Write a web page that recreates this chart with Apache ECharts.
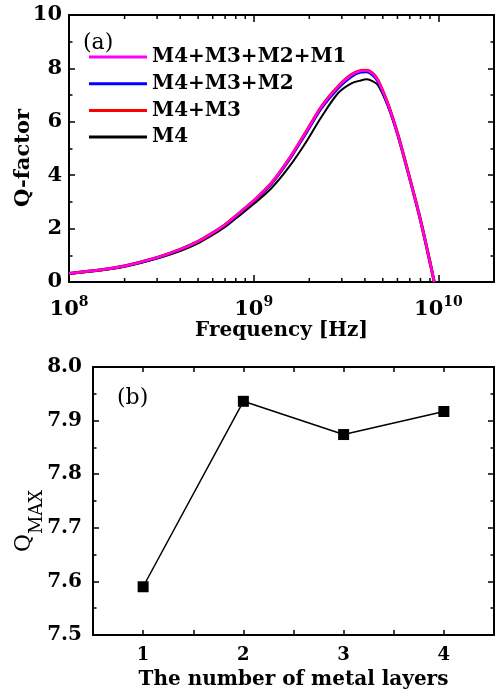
<!DOCTYPE html>
<html>
<head>
<meta charset="utf-8">
<script src="https://cdn.jsdelivr.net/npm/echarts@6/dist/echarts.min.js"></script>
<style>
html,body{margin:0;padding:0;background:#fff;}
#chart{width:497px;height:695px;}
</style>
</head>
<body>
<div id="chart"></div>
<script>
// ---- data (panel a) ----
const freqHz = [1e8, 1.5e8, 2e8, 3e8, 4e8, 5e8, 6e8, 7e8, 8e8, 1e9, 1.25e9, 1.55e9, 1.9e9, 2.33e9, 2.86e9, 3.38e9, 3.8e9, 4.1e9, 4.4e9, 4.7e9, 5.3e9, 6.0e9, 6.8e9, 8.0e9, 9.5e9];
const qM4M3M2M1 = [0.32, 0.46, 0.60, 0.92, 1.22, 1.52, 1.84, 2.15, 2.48, 3.05, 3.72, 4.60, 5.57, 6.57, 7.31, 7.75, 7.90, 7.917, 7.80, 7.55, 6.70, 5.57, 4.20, 2.32, 0];
const qM4M3M2   = [0.32, 0.46, 0.60, 0.91, 1.21, 1.51, 1.83, 2.14, 2.46, 3.03, 3.69, 4.56, 5.53, 6.52, 7.26, 7.70, 7.86, 7.875, 7.76, 7.52, 6.68, 5.56, 4.19, 2.31, 0];
const qM4M3     = [0.32, 0.46, 0.60, 0.92, 1.22, 1.52, 1.84, 2.15, 2.48, 3.05, 3.72, 4.60, 5.58, 6.58, 7.32, 7.77, 7.92, 7.935, 7.82, 7.57, 6.72, 5.58, 4.21, 2.33, 0];
const qM4       = [0.30, 0.44, 0.57, 0.88, 1.16, 1.45, 1.76, 2.06, 2.38, 2.92, 3.52, 4.30, 5.19, 6.19, 7.07, 7.44, 7.55, 7.59, 7.52, 7.38, 6.62, 5.55, 4.20, 2.32, 0];
const seriesNames = ['M4+M3+M2+M1', 'M4+M3+M2', 'M4+M3', 'M4'];
const minorFreqTicks = [2e8,3e8,4e8,5e8,6e8,7e8,8e8,9e8,2e9,3e9,4e9,5e9,6e9,7e9,8e9,9e9];
const yTicksA = [0, 2, 4, 6, 8, 10];

// ---- data (panel b) ----
const metalLayers = [1, 2, 3, 4];
const qMax = [7.59, 7.936, 7.874, 7.917];
const layerTickLabels = [1, 2, 3, 4];

const SERIF = '"DejaVu Serif", "Liberation Serif", serif';
const chart = echarts.init(document.getElementById('chart'), null, {renderer: 'canvas'});

const pairs = (xs, ys) => xs.map((x, i) => [x, ys[i]]);
const frameLine = {show: true, onZero: false, lineStyle: {color: '#000', width: 2}};

function logLabel(v) {
  const e = Math.log10(v);
  if (Math.abs(e - Math.round(e)) > 1e-6) return '';
  return '{b|10}{s|' + Math.round(e) + '}';
}

const option = {
  animation: false,
  backgroundColor: '#fff',
  grid: [
    {left: 69, top: 15, width: 427, height: 267},
    {left: 93, top: 367, width: 403, height: 268}
  ],
  legend: {
    data: seriesNames.map(n => ({name: n, icon: 'rect'})),
    orient: 'vertical',
    left: 89,
    top: 47,
    padding: 0,
    itemWidth: 58,
    itemHeight: 3,
    itemGap: 6.7,
    textStyle: {fontFamily: SERIF, fontWeight: 'bold', fontSize: 20, color: '#000', lineHeight: 20}
  },
  xAxis: [
    {
      type: 'log', gridIndex: 0, position: 'bottom', min: 1e8, max: 2e10, logBase: 10,
      axisLine: frameLine,
      axisTick: {show: true, inside: true, length: 7, lineStyle: {color: '#000', width: 1.5}},
      splitLine: {show: false},
      axisLabel: {
        margin: 13, color: '#000', formatter: logLabel,
        rich: {
          b: {fontFamily: SERIF, fontWeight: 'bold', fontSize: 21, lineHeight: 26, padding: [3, 0, 0, 0], color: '#000'},
          s: {fontFamily: SERIF, fontWeight: 'bold', fontSize: 14, lineHeight: 16, verticalAlign: 'top', color: '#000'}
        }
      },
      name: 'Frequency [Hz]', nameLocation: 'middle', nameGap: 38,
      nameTextStyle: {fontFamily: SERIF, fontWeight: 'bold', fontSize: 20, color: '#000'}
    },
    {
      type: 'log', gridIndex: 0, position: 'top', min: 1e8, max: 2e10, logBase: 10,
      axisLine: frameLine,
      axisTick: {show: true, inside: true, length: 7, lineStyle: {color: '#000', width: 1.5}},
      splitLine: {show: false}, axisLabel: {show: false}
    },
    {
      type: 'value', gridIndex: 1, position: 'bottom', min: 0.5, max: 4.5, interval: 0.5,
      axisLine: frameLine,
      axisTick: {show: true, inside: true, length: 5, lineStyle: {color: '#000', width: 1.5}},
      splitLine: {show: false},
      axisLabel: {
        margin: 11, color: '#000', fontFamily: SERIF, fontWeight: 'bold', fontSize: 18,
        formatter: v => (layerTickLabels.indexOf(v) >= 0 ? String(v) : '')
      },
      name: 'The number of metal layers', nameLocation: 'middle', nameGap: 35,
      nameTextStyle: {fontFamily: SERIF, fontWeight: 'bold', fontSize: 20, color: '#000'}
    },
    {
      type: 'value', gridIndex: 1, position: 'top', min: 0.5, max: 4.5, interval: 0.5,
      axisLine: frameLine,
      axisTick: {show: true, inside: true, length: 5, lineStyle: {color: '#000', width: 1.5}},
      splitLine: {show: false}, axisLabel: {show: false}
    }
  ],
  yAxis: [
    {
      type: 'value', gridIndex: 0, position: 'left', min: yTicksA[0], max: yTicksA[yTicksA.length - 1], interval: 2,
      axisLine: frameLine,
      axisTick: {show: true, inside: true, length: 6, lineStyle: {color: '#000', width: 1.5}},
      minorTick: {show: true, splitNumber: 2, length: 3.5, lineStyle: {color: '#000', width: 1.5}},
      splitLine: {show: false}, minorSplitLine: {show: false},
      axisLabel: {margin: 7, color: '#000', fontFamily: SERIF, fontWeight: 'bold', fontSize: 21}
    },
    {
      type: 'value', gridIndex: 0, position: 'right', min: 0, max: 10, interval: 2,
      axisLine: frameLine,
      axisTick: {show: true, inside: true, length: 6, lineStyle: {color: '#000', width: 1.5}},
      minorTick: {show: true, splitNumber: 2, length: 3.5, lineStyle: {color: '#000', width: 1.5}},
      splitLine: {show: false}, minorSplitLine: {show: false}, axisLabel: {show: false}
    },
    {
      type: 'value', gridIndex: 1, position: 'left', min: 7.5, max: 8.0, interval: 0.1,
      axisLine: frameLine,
      axisTick: {show: true, inside: true, length: 6, lineStyle: {color: '#000', width: 1.5}},
      minorTick: {show: true, splitNumber: 2, length: 3.5, lineStyle: {color: '#000', width: 1.5}},
      splitLine: {show: false}, minorSplitLine: {show: false},
      axisLabel: {margin: 11, color: '#000', fontFamily: SERIF, fontWeight: 'bold', fontSize: 20, formatter: v => v.toFixed(1)}
    },
    {
      type: 'value', gridIndex: 1, position: 'right', min: 7.5, max: 8.0, interval: 0.1,
      axisLine: frameLine,
      axisTick: {show: true, inside: true, length: 6, lineStyle: {color: '#000', width: 1.5}},
      minorTick: {show: true, splitNumber: 2, length: 3.5, lineStyle: {color: '#000', width: 1.5}},
      splitLine: {show: false}, minorSplitLine: {show: false}, axisLabel: {show: false}
    }
  ],
  series: [
    {name: 'M4', type: 'line', xAxisIndex: 0, yAxisIndex: 0, data: pairs(freqHz, qM4), symbol: 'none', smooth: 0.3,
     lineStyle: {color: '#000', width: 2}, itemStyle: {color: '#000'}},
    {name: 'M4+M3+M2', type: 'line', xAxisIndex: 0, yAxisIndex: 0, data: pairs(freqHz, qM4M3M2), symbol: 'none', smooth: 0.3,
     lineStyle: {color: '#0000ff', width: 3}, itemStyle: {color: '#0000ff'}},
    {name: 'M4+M3', type: 'line', xAxisIndex: 0, yAxisIndex: 0, data: pairs(freqHz, qM4M3), symbol: 'none', smooth: 0.3,
     lineStyle: {color: '#ff0000', width: 3}, itemStyle: {color: '#ff0000'}},
    {name: 'M4+M3+M2+M1', type: 'line', xAxisIndex: 0, yAxisIndex: 0, data: pairs(freqHz, qM4M3M2M1), symbol: 'none', smooth: 0.3,
     lineStyle: {color: '#ff00ff', width: 2}, itemStyle: {color: '#ff00ff'}},
    {
      type: 'custom', xAxisIndex: 0, yAxisIndex: 0, silent: true, z: 5,
      data: minorFreqTicks.map(f => [f, 0]),
      renderItem: (params, api) => {
        const f = api.value(0);
        const b = api.coord([f, 0]);
        const t = api.coord([f, 10]);
        return {type: 'group', children: [
          {type: 'line', shape: {x1: b[0], y1: b[1], x2: b[0], y2: b[1] - 4}, style: {stroke: '#000', lineWidth: 1.5}},
          {type: 'line', shape: {x1: t[0], y1: t[1], x2: t[0], y2: t[1] + 4}, style: {stroke: '#000', lineWidth: 1.5}}
        ]};
      }
    },
    {
      type: 'line', xAxisIndex: 2, yAxisIndex: 2, data: pairs(metalLayers, qMax),
      symbol: 'rect', symbolSize: 11,
      lineStyle: {color: '#000', width: 1.5}, itemStyle: {color: '#000'}
    }
  ],
  graphic: [
    {type: 'text', x: 24, y: 158, rotation: Math.PI / 2,
     style: {text: 'Q-factor', font: 'bold 21px ' + SERIF, fill: '#000', align: 'center', verticalAlign: 'middle'}},
    {type: 'text', x: 83, y: 43,
     style: {text: '(a)', font: '22px ' + SERIF, fill: '#000', align: 'left', verticalAlign: 'middle'}},
    {type: 'text', x: 117, y: 398,
     style: {text: '(b)', font: '22px ' + SERIF, fill: '#000', align: 'left', verticalAlign: 'middle'}},
    {type: 'text', x: 24, y: 543, rotation: Math.PI / 2,
     style: {text: 'Q', font: '22px ' + SERIF, fill: '#000', align: 'center', verticalAlign: 'middle'}},
    {type: 'text', x: 37.5, y: 512, rotation: Math.PI / 2,
     style: {text: 'MAX', font: '18px ' + SERIF, fill: '#000', align: 'center', verticalAlign: 'middle'}}
  ]
};
chart.setOption(option);
</script>
</body>
</html>
